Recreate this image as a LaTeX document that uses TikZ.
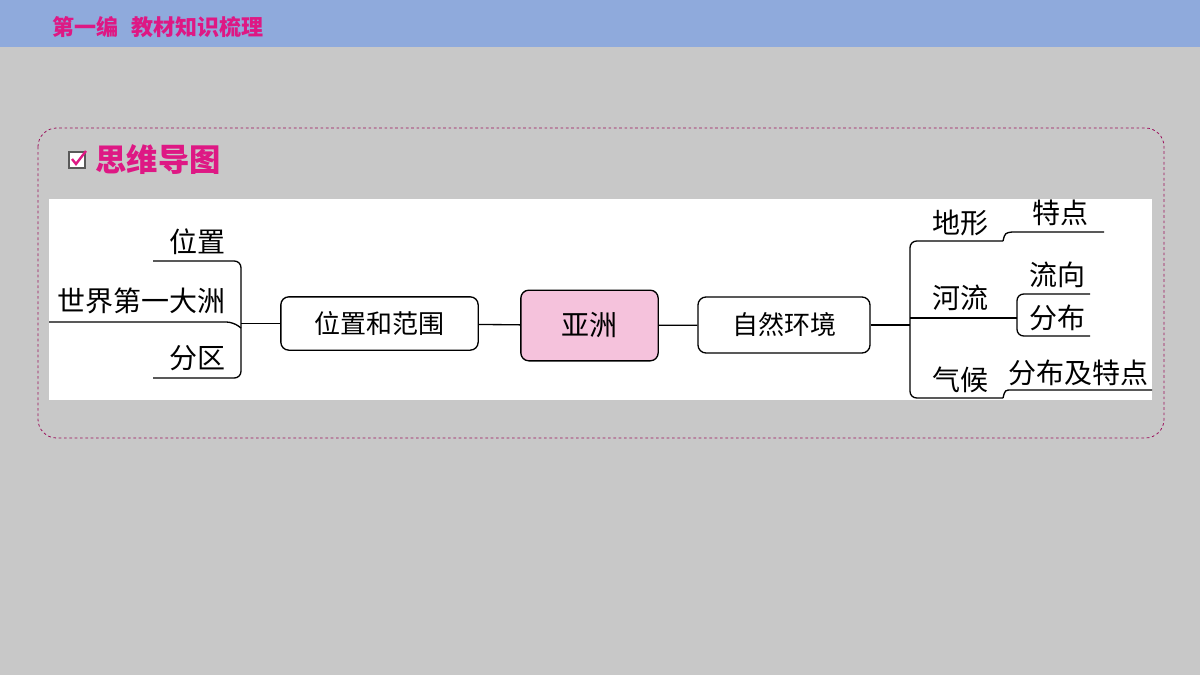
\documentclass[tikz,border=0pt]{standalone}
\usepackage{fontspec}
\setmainfont{Noto Sans CJK SC}
\usetikzlibrary{positioning}
\definecolor{barblue}{RGB}{143,170,220}
\definecolor{bggray}{RGB}{200,200,200}
\definecolor{titlepink}{RGB}{222,24,132}
\definecolor{rootpink}{RGB}{245,194,220}
\tikzset{every picture/.style={line width=0.75pt}}
\begin{document}
\begin{tikzpicture}[x=0.75pt,y=0.75pt,yscale=-1,xscale=1,
  box/.style={draw,rounded corners=6pt,line width=1pt,font=\fontsize{19.5}{19.5}\selectfont,inner sep=0pt},
  leaf/.style={font=\fontsize{21}{21}\selectfont,inner sep=0pt},
  link/.style={line width=1pt,rounded corners=5pt}]
%background
\fill[bggray] (0,0) rectangle (1200,675);
\useasboundingbox (0,0) rectangle (1200,675);
\fill[barblue] (0,0) rectangle (1200,47);
\node[anchor=west,text=titlepink,font=\fontsize{16.5}{16.5}\selectfont\bfseries,inner sep=0pt] (head) at (52,27) {第一编\hspace{0.6em}教材知识梳理};
%frame
\draw[titlepink!70!black,dashed,dash pattern=on 2pt off 2pt,rounded corners=14pt,line width=0.6pt] (38,128) rectangle (1164,438);
\draw[gray!70!black,line width=1.5pt,fill=white] (69,152) rectangle (85,168);
\draw[titlepink,line width=1.8pt] (72,159) -- (76,164) -- (86,151);
\node[anchor=west,text=titlepink,font=\fontsize{23.5}{23.5}\selectfont\bfseries,inner sep=0pt] (title) at (95,160) {思维导图};
\fill[white] (49,199) rectangle (1152,400);
%main nodes
\node[box,fill=rootpink,minimum width=103pt,minimum height=53pt,font=\fontsize{21}{21}\selectfont] (asia) at (589.5,325.5) {亚洲};
\node[box,minimum width=148pt,minimum height=40pt] (pos) at (379.5,323.5) {位置和范围};
\node[box,minimum width=129pt,minimum height=42pt] (env) at (784,325) {自然环境};
\draw[line width=1pt] (pos) -- (asia);
\draw[line width=1pt] (asia) -- (env);
%left branch
\coordinate (lj) at (241,323.5);
\draw[line width=1pt] (pos.west) -- (lj);
\draw[link] (153,261) -- (241,261) -- (lj) -- (241,378) -- (153,378);
\draw[link] (49,322) -- (233,322) -- (241,328);
\node[leaf,anchor=south east] (wz) at (226,255) {位置};
\node[leaf,anchor=south east] (sj) at (226,314) {世界第一大洲};
\node[leaf,anchor=south east] (fq) at (226,371) {分区};
%right branch
\coordinate (rj) at (910,325);
\draw[line width=1pt] (env.east) -- (rj);
\draw[link] (1003,241) -- (910,241) -- (910,398) -- (1003,398);
\draw[link] (910,318) -- (1017,318);
\draw[line width=1pt] (1003,241) .. controls (1005,233) .. (1012,232) -- (1104,232);
\draw[line width=1pt] (1003,398) .. controls (1005,390) .. (1012,390) -- (1152,390);
\draw[link] (1090,294) -- (1017,294) -- (1017,336) -- (1090,336);
\node[leaf,anchor=south] (dx) at (960,236) {地形};
\node[leaf,anchor=south] (td) at (1060,226) {特点};
\node[leaf,anchor=south] (hl) at (960,311) {河流};
\node[leaf,anchor=south] (lx) at (1057,288) {流向};
\node[leaf,anchor=south] (fb) at (1057,331) {分布};
\node[leaf,anchor=south] (qh) at (960,393) {气候};
\node[leaf,anchor=south] (fbtd) at (1078,386) {分布及特点};
\end{tikzpicture}
\end{document}
